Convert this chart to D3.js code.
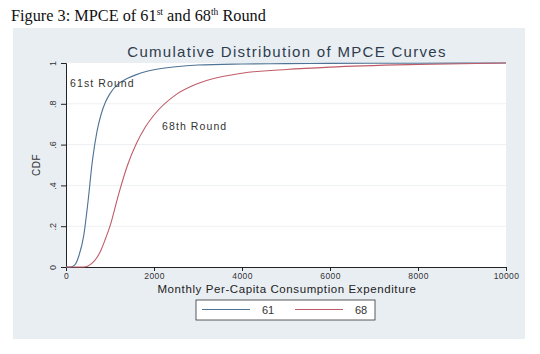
<!DOCTYPE html>
<html>
<head>
<meta charset="utf-8">
<script src="https://cdn.jsdelivr.net/npm/d3@7"></script>
<style>
  body { margin: 0; background: #fff; }
  svg text { font-family: "Liberation Sans", Arial, sans-serif; }
</style>
</head>
<body>
<div id="chart"></div>
<script>
// MPCE grid (Rs) and cumulative shares for each round
var mpce = [0, 100, 200, 300, 400, 500, 600, 700, 800, 900, 1000, 1200, 1400, 1600, 1800, 2000, 2500, 3000, 4000, 5000, 6000, 8000, 10000];
var cdf61 = [0, 0, 0.01, 0.06, 0.15, 0.32, 0.52, 0.66, 0.75, 0.81, 0.85, 0.9, 0.925, 0.943, 0.957, 0.967, 0.982, 0.99, 0.995, 0.997, 0.998, 0.999, 1];
var cdf68 = [0, 0, 0, 0, 0, 0.005, 0.02, 0.045, 0.085, 0.14, 0.2, 0.36, 0.5, 0.605, 0.685, 0.745, 0.845, 0.9, 0.95, 0.968, 0.98, 0.993, 1];
var xTicks = [0, 2000, 4000, 6000, 8000, 10000];
var yTicks = [0, 0.2, 0.4, 0.6, 0.8, 1];
var yTickLabels = ["0", ".2", ".4", ".6", ".8", "1"];
var seriesNames = ["61", "68"];
var seriesColors = ["#4f7394", "#bf5c68"];

var width = 540, height = 354;

var svg = d3.select("#chart").append("svg")
	.attr("width", width)
	.attr("height", height);

// caption above the graph
var cap = svg.append("text")
	.attr("x", 11).attr("y", 21)
	.style("font-family", "'Liberation Serif', 'Times New Roman', serif")
	.style("font-size", "16.3px")
	.attr("fill", "#111");
cap.append("tspan").text("Figure 3: MPCE of 61");
cap.append("tspan").attr("dy", -6).style("font-size", "9.5px").text("st");
cap.append("tspan").attr("dy", 6).text(" and 68");
cap.append("tspan").attr("dy", -6).style("font-size", "9.5px").text("th");
cap.append("tspan").attr("dy", 6).text(" Round");

// grey graph region
svg.append("rect")
	.attr("x", 13).attr("y", 28)
	.attr("width", 512).attr("height", 311)
	.attr("fill", "#e9eef3");

var x = d3.scaleLinear().domain([0, 10000]).range([66, 506]);
var y = d3.scaleLinear().domain([0, 1]).range([267, 63]);

// plot region
svg.append("rect")
	.attr("x", x(0)).attr("y", y(1))
	.attr("width", x(10000) - x(0)).attr("height", y(0) - y(1))
	.attr("fill", "#fff");

// grid
svg.append("g").selectAll("line")
	.data(yTicks.slice(1, 5))
	.enter().append("line")
	.attr("x1", x(0)).attr("x2", x(10000))
	.attr("y1", function(d) { return y(d); })
	.attr("y2", function(d) { return y(d); })
	.attr("stroke", "#edf0f3")
	.attr("stroke-width", 1);

// title
svg.append("text")
	.attr("x", 287).attr("y", 57)
	.attr("text-anchor", "middle")
	.style("font-size", "15px")
	.style("letter-spacing", "1.3px")
	.attr("fill", "#2e3d4e")
	.text("Cumulative Distribution of MPCE Curves");

// axes
var xAxis = svg.append("g")
	.attr("transform", "translate(0," + y(0) + ")")
	.call(d3.axisBottom(x).tickValues(xTicks).tickSize(4).tickPadding(2).tickFormat(d3.format("d")));
xAxis.select(".domain").attr("stroke", "#222");
xAxis.selectAll(".tick line").attr("stroke", "#222");
xAxis.selectAll(".tick text").style("font-size", "8.5px").style("letter-spacing", "0.4px").attr("fill", "#333");

var yAxis = svg.append("g")
	.attr("transform", "translate(" + x(0) + ",0)")
	.call(d3.axisLeft(y).tickValues(yTicks).tickSize(5).tickFormat(function(d, i) { return yTickLabels[i]; }));
yAxis.select(".domain").attr("stroke", "#222");
yAxis.selectAll(".tick line").attr("stroke", "#222");
yAxis.selectAll(".tick text")
	.attr("x", 0).attr("dy", 0)
	.attr("transform", "translate(-10,0) rotate(-90)")
	.attr("text-anchor", "middle")
	.style("font-size", "9px")
	.attr("fill", "#333");

svg.append("text")
	.attr("transform", "translate(40,165) rotate(-90)")
	.attr("text-anchor", "middle")
	.style("font-size", "10px")
	.style("letter-spacing", "0.5px")
	.attr("fill", "#333")
	.text("CDF");

svg.append("text")
	.attr("x", 287).attr("y", 293)
	.attr("text-anchor", "middle")
	.style("font-size", "11.5px")
	.style("letter-spacing", "0.6px")
	.attr("fill", "#222")
	.text("Monthly Per-Capita Consumption Expenditure");

// curves
var line = d3.line()
	.x(function(d) { return x(d[0]); })
	.y(function(d) { return y(d[1]); })
	.curve(d3.curveMonotoneX);

[cdf61, cdf68].forEach(function(s, i) {
	svg.append("path")
		.datum(mpce.map(function(m, j) { return [m, s[j]]; }))
		.attr("fill", "none")
		.attr("stroke", seriesColors[i])
		.attr("stroke-width", 1.1)
		.attr("d", line);
});

svg.append("text").attr("x", 70).attr("y", 87)
	.style("font-size", "10.5px").style("letter-spacing", "1.1px")
	.attr("fill", "#333").text("61st Round");
svg.append("text").attr("x", 162).attr("y", 130)
	.style("font-size", "10.5px").style("letter-spacing", "1.1px")
	.attr("fill", "#333").text("68th Round");

// legend
var legend = svg.append("g");
legend.append("rect")
	.attr("x", 196).attr("y", 300)
	.attr("width", 179).attr("height", 20)
	.attr("fill", "#fff").attr("stroke", "#333").attr("stroke-width", 0.8);
seriesNames.forEach(function(n, i) {
	var lx = 202 + i * 93;
	legend.append("line")
		.attr("x1", lx).attr("x2", lx + 48)
		.attr("y1", 309.5).attr("y2", 309.5)
		.attr("stroke", seriesColors[i]).attr("stroke-width", 1.1);
	legend.append("text")
		.attr("x", lx + 66).attr("y", 313.5)
		.attr("text-anchor", "middle")
		.style("font-size", "11px").attr("fill", "#333")
		.text(n);
});
</script>
</body>
</html>
